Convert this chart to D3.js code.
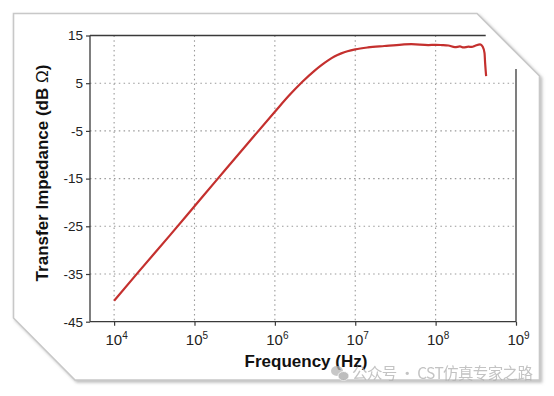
<!DOCTYPE html>
<html>
<head>
<meta charset="utf-8">
<script src="https://cdn.jsdelivr.net/npm/d3@7"></script>
<style>
  body { margin: 0; background: #fff; }
  svg { display: block; font-family: "Liberation Sans", Arial, sans-serif; }
  .tick text { fill: #222; }
  .domain { display: none; }
</style>
</head>
<body>
<div id="chart"></div>
<script>
// values
var freqHz = [1e4, 2e4, 5e4, 1e5, 2e5, 5e5, 1e6, 1.5e6, 2.2e6, 3.1e6, 3.8e6, 4.6e6, 5.5e6, 6.7e6, 8e6,
  1e7, 1.44e7, 2.3e7, 3.8e7, 5e7, 8.1e7, 1e8, 1.19e8, 1.44e8, 1.74e8, 2.01e8,
  2.22e8, 2.56e8, 2.82e8, 3.1e8, 3.58e8, 3.84e8, 4.06e8, 4.13e8, 4.25e8];
var impedanceDb = [-40.6, -34.6, -26.8, -20.8, -14.8, -6.9, -1.0, 2.4, 5.3, 7.6, 8.8, 9.8, 10.6, 11.25, 11.7,
  12.1, 12.5, 12.8, 13.1, 13.2, 13.0, 13.05, 13.0, 12.9, 12.55, 12.7,
  12.5, 12.65, 12.6, 12.85, 13.15, 12.7, 11.3, 9.2, 6.5];
var yTicks = [15, 5, -5, -15, -25, -35, -45];
var xExponents = [4, 5, 6, 7, 8, 9];

var W = 554, H = 396;

var svg = d3.select("#chart")
  .append("svg")
    .attr("width", W)
    .attr("height", H);

// card shadow
var defs = svg.append("defs");
defs.append("filter")
    .attr("id", "shadow")
    .attr("x", "-10%").attr("y", "-10%")
    .attr("width", "120%").attr("height", "120%")
  .append("feDropShadow")
    .attr("dx", 2).attr("dy", 2)
    .attr("stdDeviation", 1.8)
    .attr("flood-color", "#888")
    .attr("flood-opacity", 0.55);

var card = [[13.5, 13.5], [477, 13.5], [539.5, 76], [539.5, 380], [75, 380], [13.5, 318]];
svg.append("polygon")
    .attr("points", card.map(p => p.join(",")).join(" "))
    .attr("fill", "#fff")
    .attr("stroke", "#c8c8c8")
    .attr("stroke-width", 1.6)
    .attr("filter", "url(#shadow)");

var x = d3.scaleLog()
    .domain([Math.pow(10, 3.7), 1e9])
    .range([90, 516]);

var y = d3.scaleLinear()
    .domain([-45, 15])
    .range([321.7, 35.5]);

var g = svg.append("g");

// dotted grid
g.selectAll("line.hgrid")
  .data(yTicks.filter(d => d != 15 && d != -45))
  .enter().append("line")
    .attr("class", "hgrid")
    .attr("x1", x.range()[0]).attr("x2", x.range()[1])
    .attr("y1", d => y(d)).attr("y2", d => y(d))
    .attr("stroke", "#9a9a9a")
    .attr("stroke-width", 1.1)
    .attr("stroke-dasharray", "1.5,3.3");

g.selectAll("line.vgrid")
  .data(xExponents.filter(e => e < 9))
  .enter().append("line")
    .attr("class", "vgrid")
    .attr("x1", e => x(Math.pow(10, e))).attr("x2", e => x(Math.pow(10, e)))
    .attr("y1", y(15)).attr("y2", y(-45))
    .attr("stroke", "#9a9a9a")
    .attr("stroke-width", 1.1)
    .attr("stroke-dasharray", "1.5,3.3");

// frame: left, bottom, partial top and partial right
var frame = "#3a3a3a";
g.append("line")
    .attr("x1", x.range()[0]).attr("x2", x.range()[0])
    .attr("y1", y(15)).attr("y2", y(-45))
    .attr("stroke", frame).attr("stroke-width", 1.3);
g.append("line")
    .attr("x1", x.range()[0]).attr("x2", x.range()[1])
    .attr("y1", y(-45)).attr("y2", y(-45))
    .attr("stroke", frame).attr("stroke-width", 1.3);
g.append("line")
    .attr("x1", x.range()[0]).attr("x2", x(4.2e8))
    .attr("y1", y(15)).attr("y2", y(15))
    .attr("stroke", frame).attr("stroke-width", 1.3);
g.append("line")
    .attr("x1", x.range()[1]).attr("x2", x.range()[1])
    .attr("y1", y(8)).attr("y2", y(-45))
    .attr("stroke", frame).attr("stroke-width", 1.3);

// y axis
var yAxis = d3.axisLeft(y)
    .tickValues(yTicks)
    .tickSize(4)
    .tickPadding(3)
    .tickFormat(d => d);

g.append("g")
    .attr("transform", "translate(" + x.range()[0] + ",0)")
    .call(yAxis)
    .call(a => a.selectAll(".tick line").attr("stroke", frame).attr("stroke-width", 1.2))
    .call(a => a.selectAll(".tick text").style("font-size", "13.5px"));

// x axis
var xAxis = d3.axisBottom(x)
    .tickValues(xExponents.map(e => Math.pow(10, e)))
    .tickSize(4)
    .tickPadding(6)
    .tickFormat("");

var xg = g.append("g")
    .attr("transform", "translate(0," + y(-45) + ")")
    .call(xAxis);
xg.selectAll(".tick line").attr("stroke", frame).attr("stroke-width", 1.2);
xg.selectAll(".tick text").remove();
xg.selectAll(".tick").each(function(d) {
  var t = d3.select(this).append("text")
      .attr("y", 23)
      .attr("x", 2)
      .attr("text-anchor", "middle")
      .style("font-size", "15px");
  t.append("tspan").text("10");
  t.append("tspan")
      .attr("dy", -6)
      .style("font-size", "10px")
      .text(Math.round(Math.log10(d)));
});

// curve
var pts = freqHz.map((f, i) => [f, impedanceDb[i]]);
var line = d3.line()
    .x(d => x(d[0]))
    .y(d => y(d[1]))
    .curve(d3.curveMonotoneX);

g.append("path")
    .datum(pts)
    .attr("fill", "none")
    .attr("stroke", "#c4302e")
    .attr("stroke-width", 2.2)
    .attr("stroke-linejoin", "round")
    .attr("d", line);

// axis titles
svg.append("text")
    .attr("x", 306)
    .attr("y", 367)
    .attr("text-anchor", "middle")
    .style("font-size", "17px")
    .style("font-weight", "bold")
    .style("fill", "#111")
    .text("Frequency (Hz)");

var yt = svg.append("text")
    .attr("transform", "translate(48,173) rotate(-90)")
    .attr("text-anchor", "middle")
    .style("font-size", "17px")
    .style("font-weight", "bold")
    .style("fill", "#111");
yt.append("tspan").text("Transfer Impedance (dB ");
yt.append("tspan").style("font-weight", "normal").text("Ω");
yt.append("tspan").text(")");

// watermark
var wm = svg.append("g").attr("opacity", 0.75);
wm.append("ellipse").attr("cx", 337).attr("cy", 371).attr("rx", 6).attr("ry", 5).attr("fill", "#b5b5b5");
wm.append("ellipse").attr("cx", 343.5).attr("cy", 376).attr("rx", 5.5).attr("ry", 4.5).attr("fill", "#a8a8a8")
    .attr("stroke", "#fff").attr("stroke-width", 0.8);
wm.append("text")
    .attr("x", 352)
    .attr("y", 379)
    .attr("textLength", 181)
    .style("font-family", "'Noto Sans CJK SC', sans-serif")
    .style("font-size", "15.5px")
    .style("fill", "#b0b0b0")
    .text("公众号 · CST仿真专家之路");
</script>
</body>
</html>
